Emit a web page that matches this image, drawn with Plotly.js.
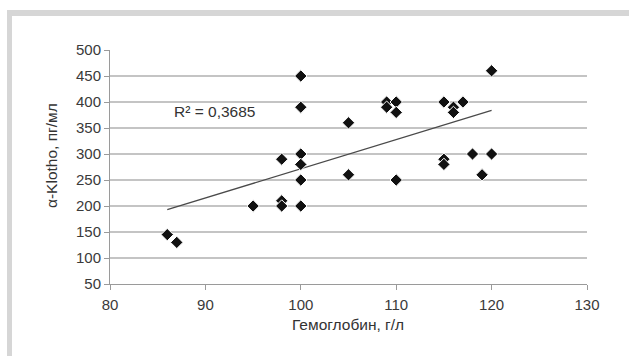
<!DOCTYPE html>
<html>
<head>
<meta charset="utf-8">
<script src="https://cdn.plot.ly/plotly-3.0.1.min.js"></script>
<style>
  html, body { margin: 0; padding: 0; background: #ffffff; }
  #chart { width: 629px; height: 356px; }
</style>
</head>
<body>
<div id="chart"></div>
<script>
// Data
const hemoglobin = [86, 87, 95, 98, 98, 98, 100, 100, 100, 100, 100, 100, 105, 105,
                    109, 109, 110, 110, 110, 115, 116, 116, 117, 115, 115, 118, 119, 120, 120];
const klotho     = [145, 130, 200, 290, 210, 200, 450, 390, 300, 280, 250, 200, 360, 260,
                    400, 390, 400, 380, 250, 400, 390, 380, 400, 290, 280, 300, 260, 460, 300];
const r2Label = "R² = 0,3685";
const xTitle = "Гемоглобин, г/л";
const yTitle = "α-Klotho, пг/мл";
const xTicks = [80, 90, 100, 110, 120, 130];
const yTicks = [50, 100, 150, 200, 250, 300, 350, 400, 450, 500];

// Linear least-squares trend line over the data range
const n = hemoglobin.length;
const mx = hemoglobin.reduce((a, b) => a + b, 0) / n;
const my = klotho.reduce((a, b) => a + b, 0) / n;
let sxy = 0, sxx = 0;
for (let i = 0; i < n; i++) {
  sxy += (hemoglobin[i] - mx) * (klotho[i] - my);
  sxx += (hemoglobin[i] - mx) ** 2;
}
const slope = sxy / sxx;
const intercept = my - slope * mx;
const xMin = Math.min(...hemoglobin), xMax = Math.max(...hemoglobin);
const trendX = [xMin, xMax];
const trendY = trendX.map(x => intercept + slope * x);

// Plot-area geometry in pixels (for the decorative frame and titles)
const W = 629, H = 356, L = 110, R = 42, T = 50, B = 72;
const pw = W - L - R, ph = H - T - B;
const px = x => (x - L) / pw;
const py = y => (H - B - y) / ph;

const traces = [
  {
    x: trendX, y: trendY, type: 'scatter', mode: 'lines',
    line: { color: '#4a4a4a', width: 1.3 }, hoverinfo: 'skip', showlegend: false
  },
  {
    x: hemoglobin, y: klotho, type: 'scatter', mode: 'markers',
    marker: { symbol: 'diamond', size: 9.5, color: '#111111',
              line: { color: '#ffffff', width: 1 } },
    showlegend: false
  }
];

const FONT = 'Liberation Sans, Arial, sans-serif';
const tickFont = { family: FONT, size: 15, color: '#3a3a3a' };

const layout = {
  width: W, height: H,
  margin: { l: L, r: R, t: T, b: B, pad: 0 },
  paper_bgcolor: '#ffffff', plot_bgcolor: '#ffffff',
  showlegend: false,
  xaxis: {
    range: [80, 130], tickvals: xTicks, ticktext: xTicks.map(String),
    showgrid: false, zeroline: false,
    showline: true, linecolor: '#9a9a9a', linewidth: 1,
    ticks: 'outside', ticklen: 5, tickcolor: '#9a9a9a', tickwidth: 1,
    ticklabelstandoff: 2,
    tickfont: tickFont, fixedrange: true
  },
  yaxis: {
    range: [50, 500], tickvals: yTicks, ticktext: yTicks.map(String),
    showgrid: true, gridcolor: '#c4c4c4', gridwidth: 1.6,
    zeroline: false,
    showline: true, linecolor: '#9a9a9a', linewidth: 1,
    ticks: 'outside', ticklen: 5, tickcolor: '#9a9a9a', tickwidth: 1,
    tickfont: tickFont, fixedrange: true
  },
  shapes: [
    { type: 'rect', xref: 'paper', yref: 'paper', layer: 'below',
      x0: px(7), x1: px(629), y0: py(16), y1: py(10),
      fillcolor: '#d6d6d6', line: { width: 0 } },
    { type: 'rect', xref: 'paper', yref: 'paper', layer: 'below',
      x0: px(7), x1: px(12), y0: py(356), y1: py(10),
      fillcolor: '#d6d6d6', line: { width: 0 } }
  ],
  annotations: [
    { text: r2Label, x: 91, y: 381, xref: 'x', yref: 'y', showarrow: false,
      xanchor: 'center', yanchor: 'middle',
      font: { family: FONT, size: 15.5, color: '#333333' } },
    { text: xTitle, x: px(348), y: py(324), xref: 'paper', yref: 'paper', showarrow: false,
      xanchor: 'center', yanchor: 'middle',
      font: { family: FONT, size: 15.5, color: '#333333' } },
    { text: yTitle, x: px(51), y: py(156), xref: 'paper', yref: 'paper', showarrow: false,
      xanchor: 'center', yanchor: 'middle', textangle: -90,
      font: { family: FONT, size: 15.5, color: '#333333' } }
  ]
};

Plotly.newPlot('chart', traces, layout, { staticPlot: true, displayModeBar: false });
</script>
</body>
</html>
